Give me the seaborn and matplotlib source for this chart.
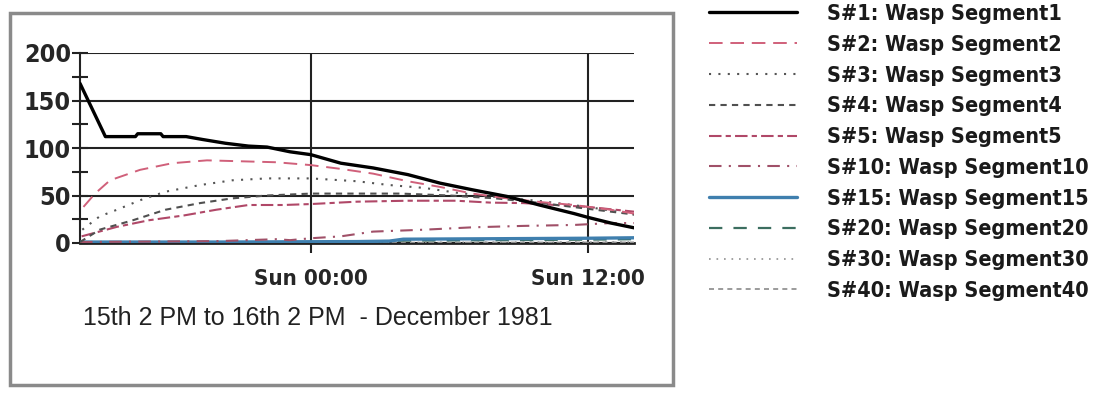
import matplotlib
matplotlib.use("Agg")
import matplotlib.pyplot as plt
import seaborn as sns
import pandas as pd
from matplotlib.patches import Rectangle
from matplotlib.lines import Line2D
from matplotlib.font_manager import FontProperties

sns.set_theme(style="white")
plt.rcParams['font.family'] = ['DejaVu Sans']

# hours after 15th 2 PM
x_s1 = [0, 1.1, 2.4, 2.5, 3.5, 3.6, 4.6, 5.3, 6.3, 7.3, 8.1, 9.1, 10, 11.3, 12.7, 14.2, 15.6, 17, 18.5, 19.9, 21.4, 22, 23, 24]
y_s1 = [168, 112, 112, 115, 115, 112, 112, 109, 105, 102, 101, 96, 93, 84, 79, 72, 63, 56, 49, 40, 31, 27, 21, 16]

x_s2 = [0.15, 0.65, 1.3, 2.6, 4, 5.5, 7, 8.5, 10, 11.3, 12.7, 14.2, 15.6, 17, 18.5, 20, 21.4, 23, 24]
y_s2 = [38, 52, 66, 77, 84, 87, 86, 85, 82, 78, 73, 65, 59, 52, 47, 43, 40, 35, 31]

x_s3 = [0.1, 0.85, 1.6, 2.6, 3.7, 5.2, 6.6, 8.1, 10, 12, 13.4, 14.9, 16.3, 17.8, 20, 22, 24]
y_s3 = [14, 28, 35, 45, 54, 61, 66, 68, 68, 65, 61, 58, 53, 49, 44, 38, 30]

x_s4 = [0, 0.85, 2.3, 3.7, 5.2, 6.6, 8.1, 10, 12, 13.9, 16, 18, 20, 22, 24]
y_s4 = [1, 14, 24, 35, 42, 47, 50, 52, 52, 52, 50, 47, 42, 36, 30]

x_s5 = [0.07, 1.6, 3, 4.5, 5.9, 7.3, 8.8, 10, 12, 14.2, 16.3, 17.8, 19.2, 22, 24]
y_s5 = [7, 17, 24, 29, 35, 40, 40, 41, 43.5, 44.5, 44.5, 42.5, 42, 38, 33]

x_s10 = [0, 3, 6, 8.5, 9.1, 10, 11.3, 12.7, 14.9, 17, 19.2, 21.4, 23, 24]
y_s10 = [1, 1.5, 2, 4, 3, 5, 7, 12, 14, 16.5, 18, 19, 21, 21]

x_s15 = [0, 6, 12, 13.4, 14, 18, 22, 24]
y_s15 = [1, 1, 1.5, 2, 4, 4.5, 5, 5.5]

x_s20 = [0, 6, 12, 14, 18, 22, 24]
y_s20 = [0.5, 0.5, 1, 2.5, 3, 3.5, 4]

x_s30 = [0, 12, 24]
y_s30 = [0.3, 0.5, 1]

x_s40 = [0, 12, 24]
y_s40 = [0.2, 0.3, 0.6]

labels = ["S#1: Wasp Segment1", "S#2: Wasp Segment2", "S#3: Wasp Segment3",
          "S#4: Wasp Segment4", "S#5: Wasp Segment5", "S#10: Wasp Segment10",
          "S#15: Wasp Segment15", "S#20: Wasp Segment20", "S#30: Wasp Segment30",
          "S#40: Wasp Segment40"]
xs = [x_s1, x_s2, x_s3, x_s4, x_s5, x_s10, x_s15, x_s20, x_s30, x_s40]
ys = [y_s1, y_s2, y_s3, y_s4, y_s5, y_s10, y_s15, y_s20, y_s30, y_s40]

x_ticks = [10, 22]
x_ticklabels = ["Sun 00:00", "Sun 12:00"]
y_ticks = [0, 50, 100, 150, 200]
caption = "15th 2 PM to 16th 2 PM  - December 1981"

colors = ["#000000", "#d0607a", "#555555", "#505050", "#b04868", "#a05068",
          "#3f7fae", "#3c6e60", "#909090", "#8a8a8a"]
styles = ["-", (0, (7, 4)), (0, (1, 3.5)), (0, (3, 2.5)), (0, (6, 2, 2.5, 2)),
          (0, (6, 3.5, 1, 3.5)), "-", (0, (6, 5)), (0, (1, 3.5)), (0, (3, 2.5))]
widths = [2.4, 1.4, 1.5, 1.5, 1.5, 1.5, 2.4, 1.6, 1.2, 1.2]

frames = []
for lab, xv, yv in zip(labels, xs, ys):
    frames.append(pd.DataFrame({"hour": xv, "value": yv, "series": lab}))
df = pd.concat(frames, ignore_index=True)

cond = dict(family="DejaVu Sans", weight="bold", stretch="condensed")

fig = plt.figure(figsize=(11.05, 3.93), dpi=100)
ax = fig.add_axes([80/1105, 1-243/393, 554/1105, 190/393])

order = list(range(len(labels)))[::-1]
for j in order:
    lab = labels[j]
    sub = df[df["series"] == lab]
    sns.lineplot(data=sub, x="hour", y="value", ax=ax, color=colors[j],
                 lw=widths[j], legend=False, zorder=6 if j == 0 else 3)
    ax.lines[-1].set_linestyle(styles[j])

ax.set_xlim(0, 24)
ax.set_ylim(0, 200)
ax.set_xlabel("")
ax.set_ylabel("")
ax.set_yticks(y_ticks)
ax.set_yticks([25, 75, 125, 175], minor=True)
ax.set_xticks(x_ticks)
ax.set_xticklabels(x_ticklabels, fontproperties=FontProperties(size=16, **cond))
ax.set_yticklabels([str(v) for v in y_ticks], fontproperties=FontProperties(size=18, **cond))
ax.tick_params(axis="y", which="both", direction="inout", length=11, width=1.5,
               color="#222222", pad=1, left=True)
ax.tick_params(axis="x", direction="out", length=7, width=1.5, color="#222222", pad=12, bottom=True)
for s in ["top", "right"]:
    ax.spines[s].set_visible(False)
ax.spines["left"].set_color("#222222")
ax.spines["left"].set_linewidth(1.5)
ax.spines["bottom"].set_color("#222222")
ax.spines["bottom"].set_linewidth(2)
ax.grid(True, axis="both", which="major", color="#222222", lw=1.5)
ax.set_axisbelow(True)
ax.patch.set_alpha(0)

fig.text(318/1105, 1-318/393, caption, ha="center", va="center",
         fontsize=18, family=["Liberation Sans", "DejaVu Sans"], color="#222222")

# legend
handles = [Line2D([], [], color=colors[j], linestyle=styles[j], lw=widths[j])
           for j in range(len(labels))]
leg = fig.legend(handles, labels, loc="upper left", bbox_to_anchor=(709/1105, 1 - 4/393),
                 frameon=False, prop=FontProperties(size=15.5, **cond),
                 handlelength=4.1, handletextpad=1.4, labelspacing=0.5,
                 borderaxespad=0, borderpad=0)
for t in leg.get_texts():
    t.set_color("#1a1a1a")

# outer frame of the original picture
fig.add_artist(Rectangle((10/1105, 1-385/393), 663/1105, 372/393, transform=fig.transFigure,
                         fill=False, edgecolor="#8a8a8a", lw=2.5))

fig.savefig("out.png", dpi=100, facecolor="white")
